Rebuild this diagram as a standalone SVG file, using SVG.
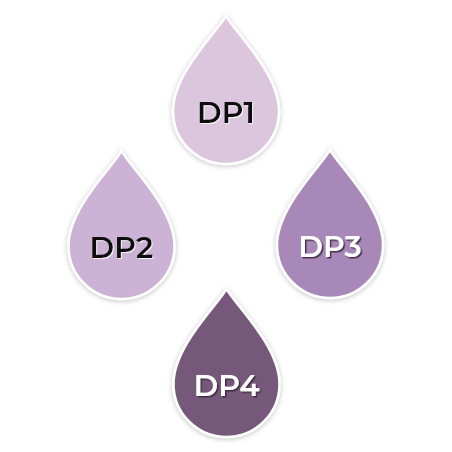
<svg xmlns="http://www.w3.org/2000/svg" width="452" height="452" viewBox="0 0 452 452">
<defs>
<filter id="sh" x="-30%" y="-30%" width="160%" height="160%">
<feDropShadow dx="0" dy="1" stdDeviation="2.5" flood-color="#000" flood-opacity="0.25"/>
</filter>
<filter id="tsd" x="-20%" y="-20%" width="140%" height="140%">
<feDropShadow dx="1.5" dy="1.5" stdDeviation="0.3" flood-color="#3a2a3e" flood-opacity="0.9"/>
</filter>
<filter id="tsl" x="-20%" y="-20%" width="140%" height="140%">
<feDropShadow dx="1" dy="1" stdDeviation="0.3" flood-color="#fff" flood-opacity="0.8"/>
</filter>
<path id="drop" d="M0,-95 C8,-80 53,-38 53,0 A53,53 0 0 1 -53,0 C-53,-38 -8,-80 0,-95 Z"/>
</defs>
<style>
.d{stroke:#fff;stroke-width:2.5;filter:url(#sh)}
.t{font-family:"Montserrat","Lato","Open Sans",sans-serif;font-weight:600;font-size:30px;text-anchor:middle}
.dk{fill:#111}
.lt{fill:#fff}
</style>
<rect width="452" height="452" fill="#fff"/>
<g id="dp1" transform="translate(226,111)">
<use href="#drop" class="d" fill="#dcc6de"/>
<text class="t dk" x="0" y="12" filter="url(#tsl)">DP1</text>
</g>
<g id="dp2" transform="translate(121.5,246)">
<use href="#drop" class="d" fill="#ccb2d5"/>
<text class="t dk" x="0" y="12" filter="url(#tsl)">DP2</text>
</g>
<g id="dp3" transform="translate(330,245)">
<use href="#drop" class="d" fill="#a888b8"/>
<text class="t lt" x="0" y="12" filter="url(#tsd)">DP3</text>
</g>
<g id="dp4" transform="translate(226.5,384)">
<use href="#drop" class="d" fill="#76597a"/>
<text class="t lt" x="0" y="12" filter="url(#tsd)">DP4</text>
</g>
<g id="connectors"/>
</svg>
